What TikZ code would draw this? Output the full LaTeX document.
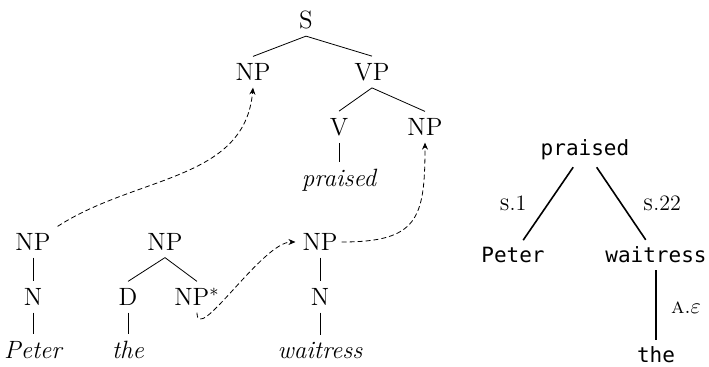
\documentclass[tikz,border=0pt]{standalone}
\usepackage{fontspec}
\setmonofont{DejaVu Sans Mono}
\usepackage{amsmath, amssymb}
\usetikzlibrary{arrows.meta}

\tikzset{
  link/.style={dash pattern=on 2.5pt off 1.5pt, -{Stealth[length=3.5pt,width=3pt]}},
  dep/.style={font=\ttfamily\fontsize{10.5}{12}\selectfont},
  rel/.style={font=\fontsize{11}{13}\selectfont},
}

\begin{document}
\begin{tikzpicture}[x=0.5pt, y=-0.5pt, font=\fontsize{12.5}{14}\selectfont]
\useasboundingbox (0,0) rectangle (709,366);
% elementary tree for praised
\node (S) at (306,20) {S};
\node (np1) at (253,72) {NP};
\node (vp) at (372,72) {VP};
\node (v) at (339,127) {V};
\node (np2) at (425,127) {NP};
\node (praised) at (339,180) {\itshape praised};
\draw (S.south)--(np1.north);
\draw (S.south)--(vp.north);
\draw (vp.south)--(v.north);
\draw (vp.south)--(np2.north);
\draw (v.south)--(praised.north);
% Peter
\node (npp) at (33,242) {NP};
\node (np) at (33,297) {N};
\node (peter) at (33,350) {\itshape Peter};
\draw (npp.south)--(np.north);
\draw (np.south)--(peter.north);
% the (auxiliary tree)
\node (npd) at (165,242) {NP};
\node (d) at (128,297) {D};
\node (foot) at (197,297) {NP$^*$};
\node (the) at (128,350) {\itshape the};
\draw (npd.south)--(d.north);
\draw (npd.south)--(foot.north);
\draw (d.south)--(the.north);
% waitress
\node (npw) at (320,242) {NP};
\node (nw) at (320,297) {N};
\node (waitress) at (320,350) {\itshape waitress};
\draw (npw.south)--(nw.north);
\draw (nw.south)--(waitress.north);
% substitution and adjunction
\draw[link] (npp.north east) to[out=33,in=-95] (np1.south);
\draw[link] (foot.south) to[out=-90,in=180,looseness=0.7] (npw.west);
\draw[link] ([xshift=-1.5pt]npw.east) to[out=0,in=-90,looseness=1.5] (np2.south);
% derivation tree
\node[dep] (dpraised) at (585,150) {praised};
\node[dep] (dpeter) at (513,255) {Peter};
\node[dep] (dwaitress) at (656,255) {waitress};
\node[dep] (dthe) at (656,355) {the};
\draw[thick] (dpraised)--(dpeter);
\draw[thick] (dpraised)--(dwaitress);
\draw[thick] (dwaitress)--(dthe);
\node[rel] (r1) at (513,203) {\textsc{s}.1};
\node[rel] (r22) at (662,203) {\textsc{s}.22};
\node[rel] (ra) at (686,308) {\textsc{a}.$\varepsilon$};
\end{tikzpicture}
\end{document}
